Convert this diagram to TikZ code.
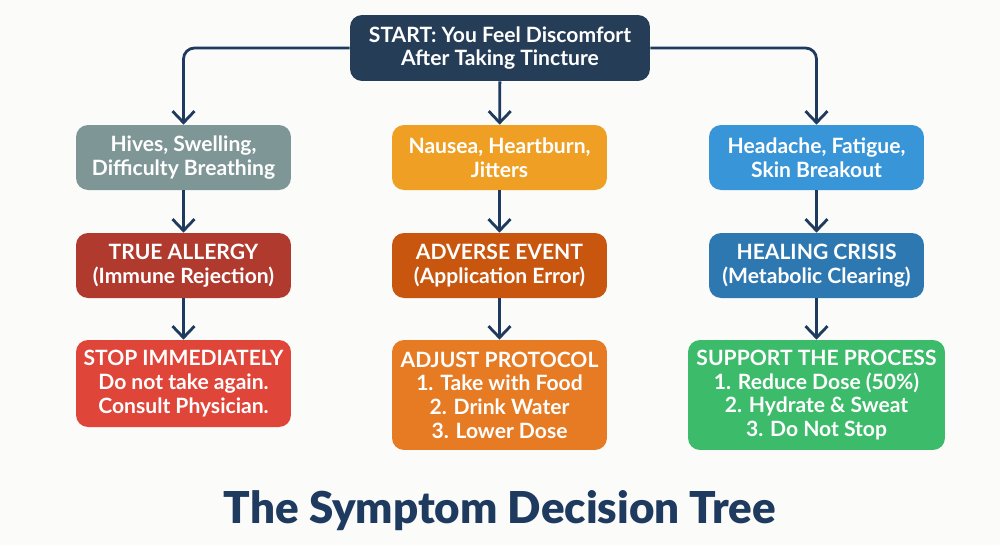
\documentclass[tikz,border=0pt]{standalone}
\usepackage{fontspec}
\setmainfont{Lato}
\newfontfamily\titlefont{Lato Black}
\usetikzlibrary{arrows.meta}

\definecolor{navy}{HTML}{1E3A5F}
\definecolor{startcol}{HTML}{263D57}
\definecolor{graycol}{HTML}{7F9697}
\definecolor{ambercol}{HTML}{EFA024}
\definecolor{skycol}{HTML}{3895D7}
\definecolor{allergycol}{HTML}{B03A2E}
\definecolor{adversecol}{HTML}{C9560F}
\definecolor{healcol}{HTML}{2E78B2}
\definecolor{stopcol}{HTML}{E0453A}
\definecolor{adjustcol}{HTML}{E67B24}
\definecolor{supportcol}{HTML}{3CBB6A}
\definecolor{bgcol}{HTML}{FBFBFA}

\tikzset{
  box/.style={rounded corners=0.24cm, text=white, align=center,
    font=\bfseries\fontsize{12}{13.5}\selectfont,
    minimum width=4.3cm, minimum height=1.3cm, inner sep=0pt},
  link/.style={draw=navy, line width=1.6pt,
    -{Straight Barb[length=2.3mm,width=4.4mm,line width=1.6pt]}}
}

\begin{document}
\begin{tikzpicture}[x=0.02cm,y=-0.02cm]
    \fill[bgcol] (0,0) rectangle (1000,545);

    \node[box, fill=startcol, minimum width=6cm, minimum height=1.32cm] (start) at (500,48)
        {START: You Feel Discomfort\\After Taking Tincture};

    \node[box, fill=graycol] (hives) at (183.5,157.5) {Hives, Swelling,\\Difficulty Breathing};
    \node[box, fill=ambercol] (nausea) at (499.5,157.5) {Nausea, Heartburn,\\Jitters};
    \node[box, fill=skycol] (headache) at (816.5,157.5) {Headache, Fatigue,\\Skin Breakout};

    \node[box, fill=allergycol] (allergy) at (183.5,265.5) {TRUE ALLERGY\\(Immune Rejection)};
    \node[box, fill=adversecol] (adverse) at (499.5,265.5) {ADVERSE EVENT\\(Application Error)};
    \node[box, fill=healcol] (healing) at (816.5,265.5) {HEALING CRISIS\\(Metabolic Clearing)};

    \node[box, fill=stopcol, minimum height=1.74cm] (stop) at (183.5,383.5)
        {STOP IMMEDIATELY\\Do not take again.\\Consult Physician.};
    \node[box, fill=adjustcol, minimum height=2.2cm] (adjust) at (499.5,395)
        {ADJUST PROTOCOL\\1. Take with Food\\2. Drink Water\\3. Lower Dose};
    \node[box, fill=supportcol, minimum width=5.14cm, minimum height=2.2cm] (support) at (816.5,395)
        {SUPPORT THE PROCESS\\1. Reduce Dose (50\%)\\2. Hydrate \& Sweat\\3. Do Not Stop};

    \draw[link, rounded corners=0.22cm] (start.west) -| (hives.north);
    \draw[link] (start) -- (nausea);
    \draw[link, rounded corners=0.22cm] (start.east) -| (headache.north);

    \draw[link] (hives) -- (allergy);
    \draw[link] (nausea) -- (adverse);
    \draw[link] (headache) -- (healing);

    \draw[link] (allergy) -- (stop);
    \draw[link] (adverse) -- (adjust);
    \draw[link] (healing) -- (support);

    \node[text=navy, font=\titlefont\fontsize{25}{30}\selectfont] (title) at (500,511)
        {The Symptom Decision Tree};
\end{tikzpicture}
\end{document}
